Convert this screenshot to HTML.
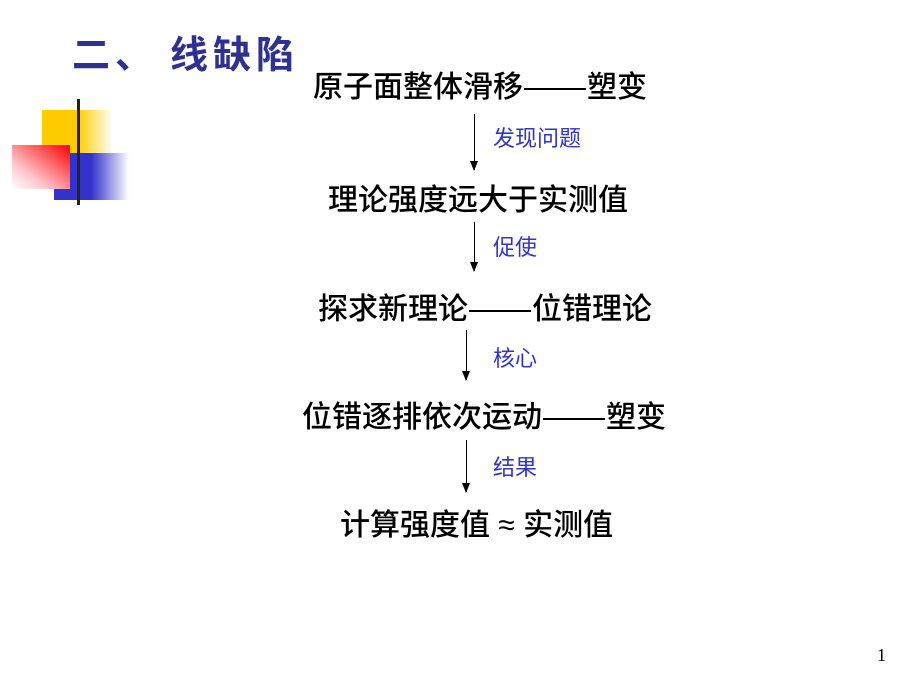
<!DOCTYPE html>
<html><head><meta charset="utf-8"><style>
body{margin:0;width:920px;height:690px;background:#fff;position:relative;overflow:hidden;font-family:"Liberation Sans","Noto Sans CJK SC",sans-serif;}
.a{position:absolute;white-space:nowrap;}
.t{font-size:30px;color:#000;line-height:30px;font-weight:500;}
.l{font-size:22px;color:#3333cc;line-height:22px;}
.d{display:inline-block;width:62px;height:2px;background:#000;vertical-align:middle;margin:0 1px;}
.ar{position:absolute;width:1px;background:#000;}
.ar:after{content:"";position:absolute;left:-4px;bottom:-1px;border-left:4.5px solid transparent;border-right:4.5px solid transparent;border-top:10px solid #000;}
</style></head><body>
<div class="a" style="left:72px;top:34px;font-size:38px;font-weight:bold;color:#2e3192;line-height:44px;letter-spacing:5px;">二、<span style="margin-left:12px">线缺陷</span></div>
<div class="a" style="left:42px;top:110px;width:71px;height:43px;background:linear-gradient(to right,#ffcc00 0%,#ffcc00 50%,#fff 100%);"></div>
<div class="a" style="left:54px;top:153px;width:75px;height:47px;background:linear-gradient(to right,#3333cc 0%,#3333cc 50%,#fff 100%);"></div>
<div class="a" style="left:12px;top:145px;width:58px;height:44px;background:linear-gradient(to bottom left,#ff0000 0%,#ffc8d0 70%,#fff 100%);"></div>
<div class="a" style="left:77px;top:99px;width:3px;height:106px;background:#222;"></div>

<div class="a t" style="left:313px;top:73px;">原子面整体滑移<span class="d"></span>塑变</div>
<div class="ar" style="left:474px;top:114px;height:56px;"></div>
<div class="a l" style="left:493px;top:128px;">发现问题</div>
<div class="a t" style="left:328px;top:186px;">理论强度远大于实测值</div>
<div class="ar" style="left:474px;top:222px;height:49px;"></div>
<div class="a l" style="left:493px;top:237px;">促使</div>
<div class="a t" style="left:318px;top:295px;">探求新理论<span class="d"></span>位错理论</div>
<div class="ar" style="left:466px;top:330px;height:50px;"></div>
<div class="a l" style="left:493px;top:348px;">核心</div>
<div class="a t" style="left:302px;top:403px;">位错逐排依次运动<span class="d"></span>塑变</div>
<div class="ar" style="left:466px;top:440px;height:52px;"></div>
<div class="a l" style="left:493px;top:457px;">结果</div>
<div class="a t" style="left:340px;top:511px;">计算强度值 ≈ 实测值</div>
<div class="a" style="left:877px;top:645px;font-size:18px;font-family:'Liberation Serif',serif;">1</div>
</body></html>
